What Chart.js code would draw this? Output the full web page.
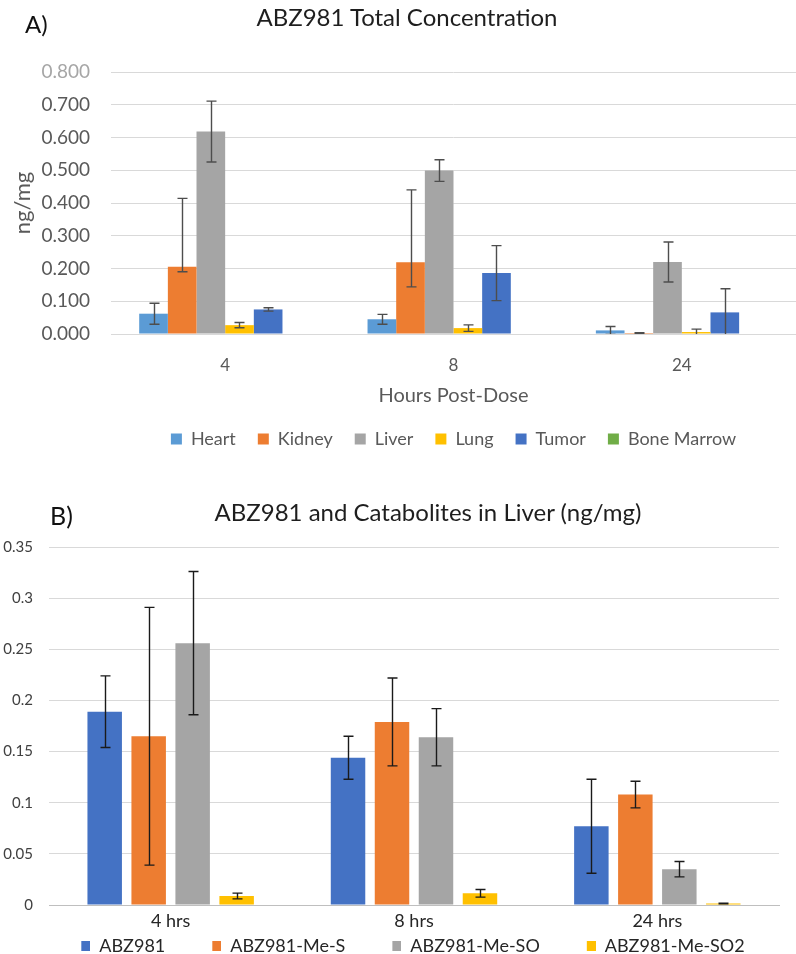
<!DOCTYPE html>
<html>
<head>
<meta charset="utf-8">
<script src="https://cdn.jsdelivr.net/npm/chart.js@4.4.1/dist/chart.umd.min.js"></script>
<style>
html,body{margin:0;padding:0;background:#fff;overflow:hidden;width:796px;height:954px;}
#wrapA{position:absolute;left:0;top:0;width:796px;height:470px;}
#wrapB{position:absolute;left:0;top:470px;width:796px;height:500px;}
.lbl{position:absolute;font-family:Lato,'Open Sans',sans-serif;white-space:nowrap;line-height:1;}
</style>
</head>
<body>
<div id="wrapA"><canvas id="chartA"></canvas></div>
<div id="wrapB"><canvas id="chartB"></canvas></div>
<div class="lbl" style="left:25px;top:12px;font-size:24px;color:#111;">A)</div>
<div class="lbl" style="left:107px;top:5px;width:600px;text-align:center;font-size:24px;color:#1e1e1e;">ABZ981 Total Concentration</div>
<div class="lbl" style="left:50px;top:503px;font-size:25px;color:#111;">B)</div>
<div class="lbl" style="left:128px;top:500px;width:600px;text-align:center;font-size:24px;color:#1e1e1e;">ABZ981 and Catabolites in Liver (ng/mg)</div>
<script>
// ---------- Panel A data ----------
const hoursA = ['4', '8', '24'];
const yTicksA = ['0.000', '0.100', '0.200', '0.300', '0.400', '0.500', '0.600', '0.700', '0.800'];
const heart = [0.062, 0.045, 0.011];
const heartErr = [0.032, 0.015, 0.012];
const kidney = [0.205, 0.219, 0.003];
const kidneyErrUp = [0.209, 0.221, 0.001];
const kidneyErrDown = [0.015, 0.075, 0.001];
const liver = [0.618, 0.499, 0.220];
const liverErr = [0.093, 0.033, 0.061];
const lung = [0.027, 0.018, 0.006];
const lungErr = [0.008, 0.010, 0.009];
const tumor = [0.075, 0.186, 0.066];
const tumorErr = [0.005, 0.084, 0.072];
const boneMarrow = [0, 0, 0];
const boneMarrowErr = [0, 0, 0];

// ---------- Panel B data ----------
const hoursB = ['4 hrs', '8 hrs', '24 hrs'];
const yTicksB = ['0', '0.05', '0.1', '0.15', '0.2', '0.25', '0.3', '0.35'];
const abz981 = [0.189, 0.144, 0.077];
const abz981Err = [0.035, 0.021, 0.046];
const meS = [0.165, 0.179, 0.108];
const meSErr = [0.126, 0.043, 0.013];
const meSO = [0.256, 0.164, 0.035];
const meSOErr = [0.070, 0.028, 0.0075];
const meSO2 = [0.0088, 0.0114, 0.0015];
const meSO2Err = [0.0028, 0.0037, 0.0003];

Chart.defaults.font.family = "Lato, 'Open Sans', sans-serif";
Chart.defaults.animation = false;

const errorBars = {
  id: 'errorBars',
  afterDatasetsDraw(chart, args, opts) {
    const {ctx, chartArea} = chart;
    const yScale = chart.scales.y;
    ctx.save();
    ctx.beginPath();
    ctx.rect(chartArea.left, 0, chartArea.right - chartArea.left, chartArea.bottom);
    ctx.clip();
    ctx.strokeStyle = opts.color;
    ctx.lineWidth = opts.width;
    chart.data.datasets.forEach((ds, i) => {
      const meta = chart.getDatasetMeta(i);
      if (!meta.visible || !ds.errPlus) return;
      meta.data.forEach((bar, j) => {
        const v = ds.data[j];
        const up = ds.errPlus[j], dn = ds.errMinus[j];
        if (!up && !dn) return;
        const x = Math.round(bar.x) + 0.5;
        const yt = yScale.getPixelForValue(v + up);
        const yb = yScale.getPixelForValue(v - dn);
        ctx.beginPath();
        ctx.moveTo(x, yt); ctx.lineTo(x, yb);
        ctx.moveTo(x - opts.cap, yt); ctx.lineTo(x + opts.cap, yt);
        ctx.moveTo(x - opts.cap, yb); ctx.lineTo(x + opts.cap, yb);
        ctx.stroke();
      });
    });
    ctx.restore();
  }
};

// ---------- Chart A ----------
new Chart(document.getElementById('chartA'), {
  type: 'bar',
  data: {
    labels: hoursA,
    datasets: [
      {label: 'Heart', data: heart, errPlus: heartErr, errMinus: heartErr, backgroundColor: '#5B9BD5'},
      {label: 'Kidney', data: kidney, errPlus: kidneyErrUp, errMinus: kidneyErrDown, backgroundColor: '#ED7D31'},
      {label: 'Liver', data: liver, errPlus: liverErr, errMinus: liverErr, backgroundColor: '#A5A5A5'},
      {label: 'Lung', data: lung, errPlus: lungErr, errMinus: lungErr, backgroundColor: '#FFC000'},
      {label: 'Tumor', data: tumor, errPlus: tumorErr, errMinus: tumorErr, backgroundColor: '#4472C4'},
      {label: 'Bone Marrow', data: boneMarrow, errPlus: boneMarrowErr, errMinus: boneMarrowErr, backgroundColor: '#70AD47'}
    ]
  },
  options: {
    responsive: true,
    maintainAspectRatio: false,
    layout: {padding: {top: 72, right: 0, bottom: 12, left: 0}},
    datasets: {bar: {categoryPercentage: 0.753, barPercentage: 1.0}},
    scales: {
      x: {
        grid: {display: false},
        border: {display: true, color: '#d9d9d9'},
        ticks: {padding: 13, color: '#595959', font: {size: 17}},
        title: {display: true, text: 'Hours Post-Dose', color: '#595959', font: {size: 20}, padding: {top: 0, bottom: 0}},
        afterFit: s => { s.height = 74; }
      },
      y: {
        min: 0, max: 0.8,
        ticks: {
          stepSize: 0.1, padding: 21, font: {size: 19},
          color: c => (c.index === yTicksA.length - 1 ? '#a6a6a6' : '#595959'),
          callback: (v, i) => yTicksA[i]
        },
        grid: {color: '#d9d9d9', drawTicks: false},
        border: {display: false},
        title: {display: true, text: 'ng/mg', color: '#595959', font: {size: 22}, padding: {top: 10, bottom: 0}},
        afterFit: s => { s.width = 111; }
      }
    },
    plugins: {
      legend: {
        position: 'bottom',
        fullSize: false,
        labels: {boxWidth: 11, boxHeight: 11, padding: 22, color: '#595959', font: {size: 18}}
      },
      tooltip: {enabled: false},
      errorBars: {color: '#4d4d4d', width: 1.4, cap: 5}
    }
  },
  plugins: [errorBars]
});

// ---------- Chart B ----------
function swatch(color, w) {
  const c = document.createElement('canvas');
  c.width = w; c.height = 10;
  const g = c.getContext('2d');
  g.fillStyle = color;
  g.fillRect(w - 9, 0, 9, 10);
  return c;
}
const colorsB = ['#4472C4', '#ED7D31', '#A5A5A5', '#FFC000'];
const swatchesB = colorsB.map(c => swatch(c, 56));

new Chart(document.getElementById('chartB'), {
  type: 'bar',
  data: {
    labels: hoursB,
    datasets: [
      {label: 'ABZ981', data: abz981, errPlus: abz981Err, errMinus: abz981Err, backgroundColor: colorsB[0]},
      {label: 'ABZ981-Me-S', data: meS, errPlus: meSErr, errMinus: meSErr, backgroundColor: colorsB[1]},
      {label: 'ABZ981-Me-SO', data: meSO, errPlus: meSOErr, errMinus: meSOErr, backgroundColor: colorsB[2]},
      {label: 'ABZ981-Me-SO2', data: meSO2, errPlus: meSO2Err, errMinus: meSO2Err, backgroundColor: colorsB[3]}
    ]
  },
  options: {
    responsive: true,
    maintainAspectRatio: false,
    layout: {padding: {top: 77, right: 17, bottom: 5, left: 0}},
    datasets: {bar: {categoryPercentage: 0.723, barPercentage: 0.784}},
    scales: {
      x: {
        grid: {display: false},
        border: {display: true, color: '#bfbfbf'},
        ticks: {padding: -3, color: '#262626', font: {size: 18}},
        afterFit: s => { s.height = 32; }
      },
      y: {
        min: 0, max: 0.35,
        ticks: {stepSize: 0.05, padding: 16, color: '#404040', font: {size: 15}, callback: (v, i) => yTicksB[i]},
        grid: {color: c => (c.tick && c.tick.value === 0 ? '#bfbfbf' : '#d9d9d9'), drawTicks: false},
        border: {display: false},
        afterFit: s => { s.width = 49; }
      }
    },
    plugins: {
      legend: {
        position: 'bottom',
        labels: {
          usePointStyle: true, pointStyleWidth: 56, padding: 0, color: '#262626', font: {size: 18},
          generateLabels(chart) {
            const items = Chart.defaults.plugins.legend.labels.generateLabels(chart);
            items.forEach(it => { it.pointStyle = swatchesB[it.datasetIndex]; });
            return items;
          }
        }
      },
      tooltip: {enabled: false},
      errorBars: {color: '#1a1a1a', width: 1.4, cap: 5}
    }
  },
  plugins: [errorBars]
});
</script>
</body>
</html>
